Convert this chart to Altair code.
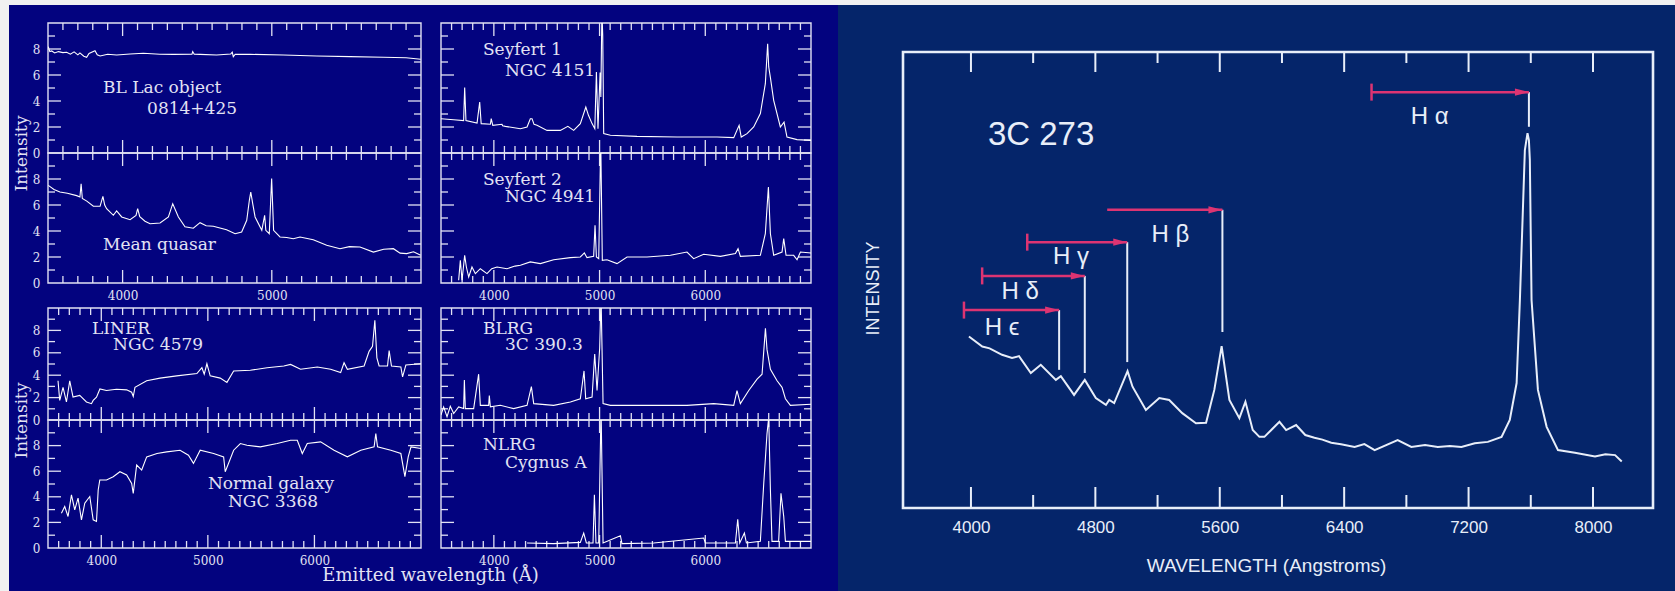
import altair as alt
import pandas as pd

PAGE_BG = "#f1f1f1"
LEFT_BG = "#03037f"
RIGHT_BG = "#05256a"
LFG = "#e2e2f4"
RFG = "#e8eef9"
ARROW = "#dd3472"
SERIF = "DejaVu Serif"
SANS = "Liberation Sans"

# ---------------- left figure: (wavelength A, intensity) ----------------
BL_LAC = [(3502, 8.18), (3512, 7.8), (3525, 7.85), (3545, 7.7), (3570, 7.8), (3600, 7.72), (3625, 7.75),
          (3650, 7.6), (3675, 7.78), (3700, 7.55), (3714, 7.7), (3740, 7.45), (3759, 7.36), (3775, 7.65),
          (3815, 7.87), (3830, 7.55), (3849, 7.46), (3900, 7.6), (3960, 7.54), (4050, 7.62), (4139, 7.67),
          (4250, 7.6), (4340, 7.59), (4465, 7.6), (4470, 7.8), (4480, 7.6), (4519, 7.59), (4630, 7.54),
          (4725, 7.62), (4735, 7.75), (4742, 7.41), (4755, 7.6), (4854, 7.59), (5077, 7.54), (5301, 7.46),
          (5524, 7.41), (5748, 7.36), (5900, 7.33), (5998, 7.21)]
MEAN_QSO = [(3502, 7.51), (3540, 7.2), (3580, 7.0), (3630, 6.9), (3692, 6.72), (3714, 6.62), (3722, 7.64),
            (3730, 6.5), (3760, 6.3), (3804, 5.9), (3849, 5.9), (3868, 6.67), (3880, 6.0), (3893, 5.72),
            (3938, 5.21), (3960, 5.54), (3994, 5.08), (4050, 4.87), (4090, 5.2), (4101, 5.72), (4115, 5.1),
            (4150, 4.75), (4184, 4.56), (4251, 4.62), (4307, 5.08), (4336, 6.1), (4374, 5.08), (4418, 4.33),
            (4474, 4.21), (4519, 4.64), (4560, 4.4), (4608, 4.36), (4697, 4.1), (4754, 3.79), (4798, 3.92),
            (4832, 4.82), (4850, 6.4), (4859, 7.0), (4872, 6.1), (4888, 5.08), (4933, 4.05), (4952, 5.21),
            (4960, 4.05), (4983, 3.79), (4999, 8.03), (5012, 4.05), (5055, 3.54), (5100, 3.5), (5144, 3.41),
            (5189, 3.54), (5278, 3.33), (5368, 2.9), (5457, 2.64), (5520, 2.8), (5591, 2.77), (5681, 2.38),
            (5750, 2.6), (5815, 2.64), (5860, 2.3), (5904, 2.26), (5950, 2.4), (5998, 2.13)]
SEYFERT1 = [(3500, 2.64), (3620, 2.56), (3714, 2.49), (3724, 5.03), (3736, 2.49), (3841, 2.31), (3866, 3.92),
            (3880, 2.26), (3967, 2.21), (3975, 2.64), (3990, 2.13), (4077, 2.21), (4083, 2.1), (4109, 2.05),
            (4251, 1.87), (4314, 2.0), (4345, 2.64), (4361, 2.64), (4380, 2.2), (4408, 2.13), (4503, 1.74),
            (4629, 1.74), (4700, 2.05), (4755, 1.74), (4818, 2.26), (4870, 3.54), (4895, 2.9), (4929, 2.26),
            (4955, 1.87), (4970, 6.23), (4985, 1.87), (5005, 6.2), (5012, 4.3), (5022, 11.0), (5030, 9.0),
            (5039, 1.49), (5102, 1.36), (5354, 1.28), (5733, 1.23), (5985, 1.23), (6111, 1.23), (6269, 1.18),
            (6320, 2.13), (6340, 1.23), (6395, 1.49), (6458, 2.0), (6521, 3.03), (6568, 5.33), (6590, 8.41),
            (6600, 6.62), (6616, 5.8), (6647, 4.05), (6710, 2.0), (6745, 2.38), (6773, 1.23), (6868, 1.03),
            (7000, 0.97)]
SEYFERT2 = [(3667, 0.21), (3683, 1.74), (3699, 0.21), (3724, 2.13), (3740, 1.23), (3762, 0.46), (3793, 1.23),
            (3825, 0.72), (3872, 1.1), (3935, 0.72), (3980, 1.1), (4030, 1.23), (4124, 1.1), (4200, 1.3),
            (4251, 1.36), (4345, 1.62), (4440, 1.49), (4566, 1.79), (4724, 1.95), (4818, 2.0), (4856, 2.31),
            (4881, 1.95), (4944, 2.05), (4957, 4.44), (4970, 2.0), (4992, 1.87), (5011, 11.0), (5026, 1.74),
            (5070, 1.79), (5165, 1.49), (5260, 2.0), (5449, 2.0), (5670, 2.13), (5827, 2.38), (5890, 1.87),
            (5985, 2.21), (6143, 2.05), (6285, 2.26), (6310, 2.64), (6332, 2.05), (6521, 2.13), (6568, 3.79),
            (6597, 7.38), (6616, 3.79), (6647, 2.13), (6726, 2.38), (6742, 3.41), (6764, 2.13), (6836, 2.13),
            (6868, 1.79), (6900, 2.38), (7000, 2.31)]
LINER = [(3594, 3.5), (3610, 1.75), (3641, 2.92), (3673, 1.61), (3704, 3.5), (3735, 2.04), (3798, 2.19),
         (3861, 1.61), (3908, 1.46), (3924, 1.75), (3955, 2.04), (3987, 2.77), (4049, 2.63), (4143, 2.74),
         (4238, 2.69), (4285, 2.48), (4300, 2.1), (4316, 2.92), (4426, 3.5), (4551, 3.74), (4708, 3.94),
         (4897, 4.15), (4944, 4.67), (4966, 4.09), (4991, 5.02), (5022, 3.94), (5116, 3.74), (5179, 3.36),
         (5242, 4.38), (5399, 4.44), (5556, 4.67), (5713, 4.82), (5776, 4.96), (5870, 4.53), (6027, 4.73),
         (6152, 4.53), (6246, 4.23), (6278, 5.11), (6309, 4.53), (6466, 4.82), (6513, 6.13), (6545, 6.57),
         (6567, 8.91), (6586, 5.55), (6607, 4.82), (6686, 4.82), (6701, 6.19), (6723, 4.82), (6811, 4.73),
         (6827, 3.85), (6858, 4.91), (7000, 5.02)]
NORMAL = [(3626, 2.72), (3657, 3.24), (3688, 2.46), (3720, 4.15), (3751, 2.98), (3782, 3.89), (3814, 2.2),
          (3845, 3.5), (3892, 4.02), (3924, 2.2), (3955, 2.07), (3971, 4.53), (3986, 5.31), (4049, 5.31),
          (4112, 5.57), (4175, 5.96), (4238, 5.7), (4285, 5.05), (4300, 4.27), (4332, 6.48), (4379, 6.09),
          (4426, 7.12), (4523, 7.38), (4614, 7.51), (4739, 7.64), (4818, 7.25), (4865, 6.61), (4928, 7.64),
          (5054, 7.38), (5148, 7.12), (5163, 5.96), (5242, 7.64), (5305, 8.16), (5367, 8.03), (5493, 7.9),
          (5650, 8.16), (5776, 8.42), (5839, 8.42), (5886, 7.38), (5933, 8.16), (6058, 8.29), (6184, 7.64),
          (6309, 7.12), (6435, 7.64), (6560, 7.9), (6576, 8.94), (6592, 7.9), (6717, 7.64), (6811, 7.38),
          (6849, 5.57), (6880, 7.12), (6906, 7.9), (7000, 7.77)]
BLRG = [(3500, 0.44), (3525, 1.17), (3557, 0.29), (3588, 1.23), (3620, 0.58), (3667, 1.17), (3714, 1.02),
        (3721, 3.56), (3730, 1.02), (3809, 1.02), (3856, 4.09), (3872, 1.31), (3951, 1.31), (3957, 2.19),
        (3967, 1.17), (4061, 1.31), (4187, 1.02), (4314, 1.31), (4355, 2.98), (4377, 1.46), (4566, 1.31),
        (4724, 1.61), (4818, 1.9), (4853, 4.38), (4869, 1.9), (4929, 2.04), (4954, 5.9), (4976, 2.63),
        (5001, 6.42), (5014, 11.0), (5033, 1.46), (5102, 1.31), (5512, 1.31), (5827, 1.31), (6080, 1.46),
        (6269, 1.31), (6300, 2.63), (6332, 1.46), (6411, 2.63), (6490, 3.65), (6537, 4.09), (6569, 8.18),
        (6584, 6.28), (6616, 4.53), (6679, 3.5), (6726, 2.92), (6758, 1.9), (6805, 1.31), (7000, 1.4)]
NLRG = [(4314, 0.39), (4566, 0.34), (4818, 0.44), (4850, 1.17), (4875, 0.39), (4938, 0.39), (4951, 4.15),
        (4966, 0.39), (4992, 0.39), (5014, 11.0), (5033, 0.39), (5197, 0.96), (5212, 0.34), (5512, 0.39),
        (5985, 0.78), (6001, 0.39), (6285, 0.39), (6307, 2.25), (6326, 0.39), (6370, 1.17), (6389, 0.39),
        (6521, 0.52), (6553, 5.05), (6584, 8.94), (6600, 10.2), (6616, 4.53), (6631, 0.52), (6694, 0.52),
        (6716, 4.27), (6742, 2.46), (6758, 0.52), (7000, 0.52)]

# panel annotations: (wavelength, intensity, text)
TXT_BLLAC = [(3869, 5.0, "BL Lac object"), (4164, 3.38, "0814+425")]
TXT_QSO = [(3869, 2.92, "Mean quasar")]
TXT_SEY1 = [(3897, 7.92, "Seyfert 1"), (4105, 6.31, "NGC 4151")]
TXT_SEY2 = [(3897, 7.92, "Seyfert 2"), (4105, 6.62, "NGC 4941")]
TXT_LINER = [(3913, 8.13, "LINER"), (4110, 6.7, "NGC 4579")]
TXT_NORMAL = [(5001, 5.0, "Normal galaxy"), (5189, 3.59, "NGC 3368")]
TXT_BLRG = [(3897, 8.13, "BLRG"), (4105, 6.7, "3C 390.3")]
TXT_NLRG = [(3897, 8.05, "NLRG"), (4105, 6.64, "Cygnus A")]

Y_LABELS = [0, 2, 4, 6, 8]
X_LABELS_A = [4000, 5000]
X_LABELS_B = [4000, 5000, 6000]

# ---------------- right figure: 3C 273 ----------------
QSO_3C273 = [(3987, 3.76), (4073, 3.54), (4120, 3.5), (4200, 3.36), (4264, 3.29), (4309, 3.33), (4385, 2.96),
             (4449, 3.14), (4546, 2.81), (4578, 2.89), (4663, 2.48), (4732, 2.81), (4803, 2.41), (4868, 2.26),
             (4889, 2.37), (4921, 2.3), (5007, 3.0), (5039, 2.66), (5125, 2.15), (5211, 2.41), (5275, 2.37),
             (5359, 2.08), (5447, 1.86), (5512, 1.87), (5565, 2.59), (5612, 3.55), (5662, 2.37), (5726, 1.97),
             (5765, 2.33), (5812, 1.71), (5855, 1.56), (5887, 1.56), (5984, 1.89), (6027, 1.71), (6091, 1.82),
             (6150, 1.6), (6209, 1.54), (6260, 1.5), (6317, 1.43), (6380, 1.4), (6467, 1.34), (6530, 1.4),
             (6596, 1.27), (6744, 1.49), (6832, 1.34), (6920, 1.38), (7002, 1.34), (7080, 1.36), (7154, 1.34),
             (7240, 1.42), (7324, 1.45), (7412, 1.56), (7465, 1.93), (7509, 2.74), (7530, 4.56), (7562, 7.85),
             (7579, 8.22), (7588, 8.07), (7594, 7.63), (7605, 4.56), (7646, 2.59), (7702, 1.78), (7775, 1.27),
             (7884, 1.21), (8013, 1.13), (8080, 1.18), (8142, 1.16), (8185, 1.02)]
LINE_NAMES = ["H ϵ", "H δ", "H γ", "H β", "H α"]
LINE_OBS = [4567, 4732, 5005, 5617, 7588]
LINE_REST = [3955, 4072, 4362, 4876, 6576]
MARK_TOP = [4.34, 5.09, 5.83, 6.54, 9.12]
MARK_BOT = [3.03, 2.96, 3.20, 3.86, 8.36]
START_BAR = [True, True, True, False, True]
LABEL_X = [4200, 4316, 4644, 5282, 6950]
LABEL_Y = [3.95, 4.74, 5.50, 5.99, 8.57]
RIGHT_MAJOR = [4000, 4800, 5600, 6400, 7200, 8000]
RIGHT_MINOR = [4400, 5200, 6000, 6800, 7600]

ONE = pd.DataFrame({"k": [0]})


def xenc(dom, axis, rng=None):
    sc = alt.Scale(domain=list(dom), nice=False, zero=False) if rng is None else \
        alt.Scale(domain=list(dom), range=list(rng), nice=False, zero=False)
    return alt.X("x:Q", scale=sc, axis=axis)


def yenc(dom, axis, rng=None):
    sc = alt.Scale(domain=list(dom), nice=False, zero=False) if rng is None else \
        alt.Scale(domain=list(dom), range=list(rng), nice=False, zero=False)
    return alt.Y("y:Q", scale=sc, axis=axis)


def spacer(w, h):
    return alt.Chart(ONE).mark_point(opacity=0).encode(
        x=alt.value(0), y=alt.value(0)).properties(width=w, height=h)


def left_panel(pairs, xdom, w, h, texts, ylabels=True, xlabels=None, xtitle=None, ytitle=False, page_bg=False):
    ydom = (0, 10)
    if xlabels:
        xk = dict(values=xlabels, format="d", ticks=False, domain=False, grid=False, labelPadding=7,
                  labelFont=SERIF, labelFontSize=12, labelColor=LFG, zindex=1, labelFlush=False)
        if xtitle:
            xk.update(title=xtitle, titleX=382, titleY=27, titleAlign="center", titleBaseline="middle",
                      titleFont=SERIF, titleFontSize=18, titleFontWeight="normal", titleColor=LFG)
        else:
            xk["title"] = None
        xaxis = alt.Axis(**xk)
    else:
        xaxis = None
    if ylabels:
        yk = dict(values=Y_LABELS, format="d", ticks=False, domain=False, grid=False, labelPadding=8,
                  labelFont=SERIF, labelFontSize=12, labelColor=LFG, zindex=1, labelFlush=False)
        if ytitle:
            yk.update(title="Intensity", titleX=-27, titleY=h, titleAngle=270, titleAlign="center",
                      titleBaseline="middle", titleFont=SERIF, titleFontSize=17, titleFontWeight="normal",
                      titleColor=LFG)
        else:
            yk["title"] = None
        yaxis = alt.Axis(**yk)
    else:
        yaxis = None

    layers = []
    if page_bg:
        layers.append(alt.Chart(ONE).mark_rect(color=PAGE_BG, clip=False).encode(
            x=alt.value(-48), x2=alt.value(1627), y=alt.value(-23), y2=alt.value(568)))
        layers.append(alt.Chart(ONE).mark_rect(color=LEFT_BG, clip=False).encode(
            x=alt.value(-39), x2=alt.value(790), y=alt.value(-18), y2=alt.value(568)))
    layers.append(alt.Chart(ONE).mark_rect(fillOpacity=0, stroke=LFG, strokeWidth=1.4).encode(
        x=alt.value(0), x2=alt.value(w), y=alt.value(0), y2=alt.value(h)))

    x_major = list(range(4000, xdom[1], 1000))
    x_minor = [v for v in range(xdom[0] + 100, xdom[1], 100) if v % 1000]
    for vals, L in [(x_major, 13), (x_minor, 7)]:
        d = pd.DataFrame({"x": vals})
        base = alt.Chart(d).mark_rule(color=LFG, strokeWidth=1.3)
        layers.append(base.encode(x=xenc(xdom, xaxis), y=alt.value(0), y2=alt.value(L)))
        layers.append(base.encode(x=xenc(xdom, xaxis), y=alt.value(h - L), y2=alt.value(h)))
    for vals, L in [([2, 4, 6, 8], 13), ([1, 3, 5, 7, 9], 7)]:
        d = pd.DataFrame({"y": vals})
        base = alt.Chart(d).mark_rule(color=LFG, strokeWidth=1.3)
        layers.append(base.encode(y=yenc(ydom, yaxis), x=alt.value(0), x2=alt.value(L)))
        layers.append(base.encode(y=yenc(ydom, yaxis), x=alt.value(w - L), x2=alt.value(w)))

    spec = pd.DataFrame(pairs, columns=["x", "y"])
    layers.append(alt.Chart(spec).mark_line(clip=True, color="#ffffff", strokeWidth=1.1).encode(
        x=xenc(xdom, xaxis), y=yenc(ydom, yaxis)))
    tdf = pd.DataFrame(texts, columns=["x", "y", "t"])
    layers.append(alt.Chart(tdf).mark_text(align="left", baseline="middle", font=SERIF, fontSize=17,
                                            color=LFG).encode(x=xenc(xdom, xaxis), y=yenc(ydom, yaxis),
                                                              text="t:N"))
    return alt.layer(*layers).properties(width=w, height=h)


W1, W2 = 373, 370
p1 = left_panel(BL_LAC, (3500, 6000), W1, 130, TXT_BLLAC, ytitle=True, page_bg=True)
p2 = left_panel(MEAN_QSO, (3500, 6000), W1, 130, TXT_QSO, xlabels=X_LABELS_A)
p3 = left_panel(LINER, (3500, 7000), W1, 112, TXT_LINER, ytitle=True)
p4 = left_panel(NORMAL, (3500, 7000), W1, 128, TXT_NORMAL, xlabels=X_LABELS_B, xtitle="Emitted wavelength (Å)")
q1 = left_panel(SEYFERT1, (3500, 7000), W2, 130, TXT_SEY1, ylabels=False)
q2 = left_panel(SEYFERT2, (3500, 7000), W2, 130, TXT_SEY2, ylabels=False, xlabels=X_LABELS_B)
q3 = left_panel(BLRG, (3500, 7000), W2, 112, TXT_BLRG, ylabels=False)
q4 = left_panel(NLRG, (3500, 7000), W2, 128, TXT_NLRG, ylabels=False, xlabels=X_LABELS_B)

# ---------------- right chart (drawn from the first grid row, scale ranges set explicitly) ----------------
RW = 750
TOP = 29            # frame top below the grid row top
BOT = TOP + 456     # frame bottom
CELL_H = 130
RX = (3563, 8386)
RY = (0, 10)
YR = (BOT, TOP)
rxaxis = alt.Axis(values=RIGHT_MAJOR, format="d", ticks=False, domain=False, grid=False, labelPadding=11,
                  offset=BOT - CELL_H,
                  labelFont=SANS, labelFontSize=17, labelColor=RFG, zindex=1, labelFlush=False,
                  title="WAVELENGTH (Angstroms)", titleX=363, titleY=57, titleAlign="center",
                  titleBaseline="middle", titleFont=SANS, titleFontSize=19, titleFontWeight="normal",
                  titleColor=RFG)
ryaxis = alt.Axis(labels=False, ticks=False, domain=False, grid=False, zindex=1,
                  title="INTENSITY", titleX=-30, titleY=TOP + 236, titleAngle=270, titleAlign="center",
                  titleBaseline="middle", titleFont=SANS, titleFontSize=18, titleFontWeight="normal",
                  titleColor=RFG)


def rx():
    return xenc(RX, rxaxis)


def ry():
    return yenc(RY, ryaxis, YR)


rl = []
rl.append(alt.Chart(ONE).mark_rect(color=RIGHT_BG, clip=False).encode(
    x=alt.value(-65), x2=alt.value(772), y=alt.value(-18), y2=alt.value(568)))
rl.append(alt.Chart(ONE).mark_rect(fillOpacity=0, stroke=RFG, strokeWidth=2.6).encode(
    x=alt.value(0), x2=alt.value(RW), y=alt.value(TOP), y2=alt.value(BOT)))
for vals, Lt, Lb in [(RIGHT_MAJOR, 20, 21), (RIGHT_MINOR, 11, 13)]:
    d = pd.DataFrame({"x": vals})
    base = alt.Chart(d).mark_rule(color=RFG, strokeWidth=2)
    rl.append(base.encode(x=rx(), y=alt.value(TOP), y2=alt.value(TOP + Lt)))
    rl.append(base.encode(x=rx(), y=alt.value(BOT - Lb), y2=alt.value(BOT)))

sdf = pd.DataFrame(QSO_3C273, columns=["x", "y"])
rl.append(alt.Chart(sdf).mark_line(color=RFG, strokeWidth=2).encode(x=rx(), y=ry()))

mdf = pd.DataFrame({"x": LINE_OBS, "y": MARK_BOT, "y2": MARK_TOP})
rl.append(alt.Chart(mdf).mark_rule(color=RFG, strokeWidth=2).encode(x=rx(), y=ry(), y2="y2:Q"))
adf = pd.DataFrame({"x": LINE_REST, "x2": LINE_OBS, "y": MARK_TOP})
rl.append(alt.Chart(adf).mark_rule(color=ARROW, strokeWidth=2.5).encode(x=rx(), x2="x2:Q", y=ry()))
hdf = pd.DataFrame({"x": LINE_OBS, "y": MARK_TOP})
rl.append(alt.Chart(hdf).mark_point(shape="M-1,-0.26L0,0L-1,0.26Z", size=784, filled=True, color=ARROW,
                                     opacity=1, strokeWidth=0).encode(x=rx(), y=ry()))
bdf = pd.DataFrame({"x": [r for r, b in zip(LINE_REST, START_BAR) if b],
                    "y": [t for t, b in zip(MARK_TOP, START_BAR) if b]})
rl.append(alt.Chart(bdf).mark_tick(orient="vertical", size=17, thickness=2.5, color=ARROW, opacity=1).encode(
    x=rx(), y=ry()))
ldf = pd.DataFrame({"x": LABEL_X, "y": LABEL_Y, "t": LINE_NAMES})
rl.append(alt.Chart(ldf).mark_text(font=SANS, fontSize=24, color=RFG, align="center", baseline="middle").encode(
    x=rx(), y=ry(), text="t:N"))
tdf = pd.DataFrame({"x": [4451], "y": [8.18], "t": ["3C 273"]})
rl.append(alt.Chart(tdf).mark_text(font=SANS, fontSize=33, color=RFG, align="center", baseline="middle").encode(
    x=rx(), y=ry(), text="t:N"))

right = alt.layer(*rl).properties(width=RW, height=CELL_H)

# one flat grid: columns = [left col 1, left col 2, gap, right chart]
cells = [
    p1, q1, spacer(52, 1), right,
    p2, q2, spacer(1, 1), spacer(1, 1),
    spacer(1, 25), spacer(1, 25), spacer(1, 25), spacer(1, 25),
    p3, q3, spacer(1, 1), spacer(1, 1),
    p4, q4, spacer(1, 1), spacer(1, 1),
]

chart = alt.concat(*cells, columns=4, spacing={"row": 0, "column": 20}, bounds="flush").properties(
    background=PAGE_BG, padding=0
).configure_view(stroke=None).configure_axis(grid=False)

chart.save("out.html", embed_options={"renderer": "svg", "actions": False})
